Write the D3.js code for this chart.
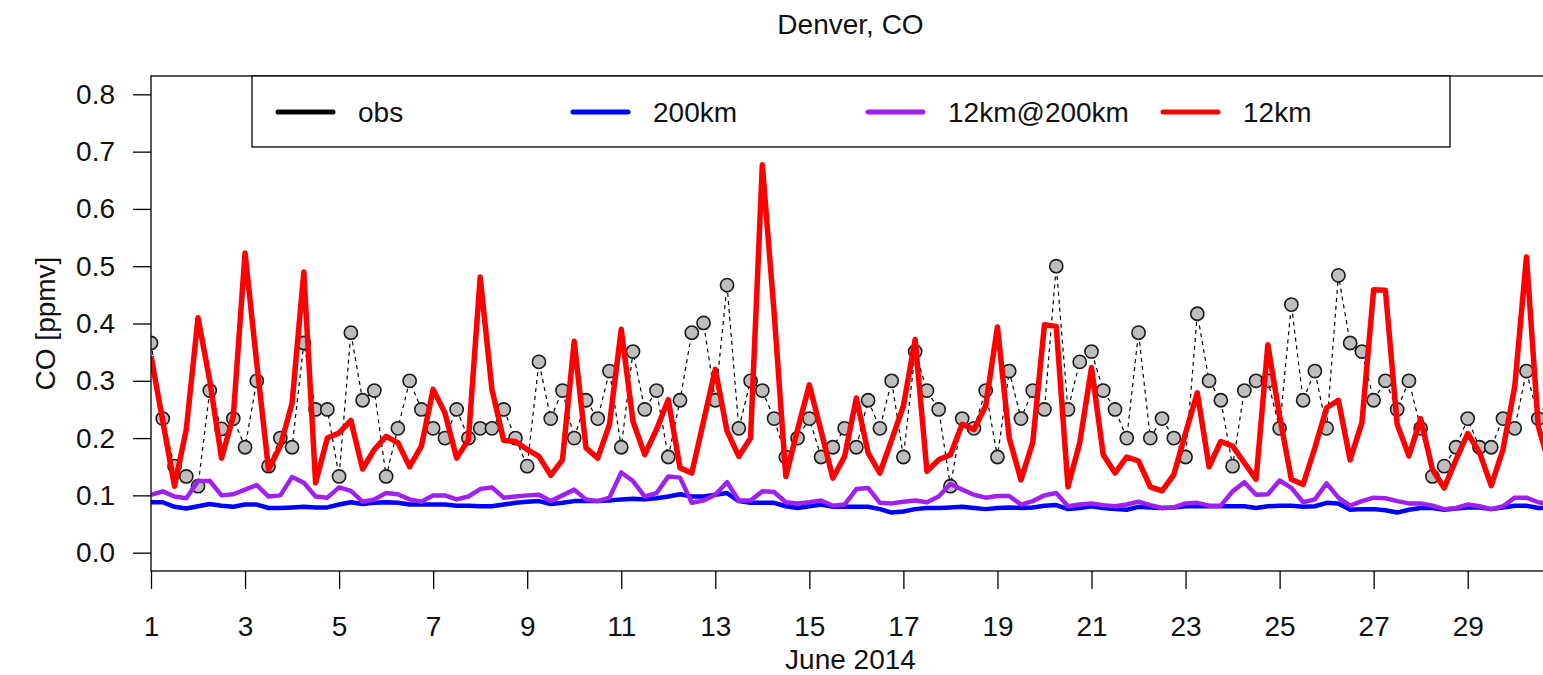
<!DOCTYPE html>
<html>
<head>
<meta charset="utf-8">
<script src="https://cdn.jsdelivr.net/npm/d3@7"></script>
<style>
  html, body { margin: 0; padding: 0; background: #fff; }
  svg { display: block; font-family: "Liberation Sans", Arial, Helvetica, sans-serif; }
</style>
</head>
<body>
<svg id="chart" width="1543" height="675"></svg>
<script>
// ---- data (6-hourly values starting 1 June 2014 00 UTC) ----
const obs = [
  0.366, 0.234, 0.151, 0.133,  0.116, 0.283, 0.216, 0.234,  0.184, 0.300, 0.151, 0.200,
  0.184, 0.366, 0.250, 0.250,  0.133, 0.384, 0.266, 0.283,  0.133, 0.217, 0.300, 0.250,
  0.217, 0.200, 0.250, 0.200,  0.217, 0.217, 0.250, 0.200,  0.151, 0.333, 0.234, 0.283,
  0.200, 0.266, 0.234, 0.317,  0.184, 0.351, 0.250, 0.283,  0.167, 0.266, 0.384, 0.401,
  0.266, 0.467, 0.217, 0.300,  0.283, 0.234, 0.167, 0.200,  0.234, 0.167, 0.184, 0.217,
  0.184, 0.266, 0.217, 0.300,  0.167, 0.351, 0.283, 0.250,  0.116, 0.234, 0.217, 0.283,
  0.167, 0.317, 0.234, 0.283,  0.250, 0.500, 0.250, 0.333,  0.351, 0.283, 0.250, 0.200,
  0.384, 0.200, 0.234, 0.200,  0.167, 0.417, 0.300, 0.266,  0.151, 0.283, 0.300, 0.300,
  0.217, 0.433, 0.266, 0.317,  0.217, 0.484, 0.366, 0.351,  0.266, 0.300, 0.250, 0.300,
  0.217, 0.133, 0.151, 0.184,  0.234, 0.184, 0.184, 0.234,  0.217, 0.317, 0.234, 0.250
];
const km200 = [
  0.088, 0.088, 0.080, 0.077,  0.081, 0.085, 0.082, 0.080,  0.084, 0.084, 0.078, 0.078,
  0.079, 0.080, 0.079, 0.079,  0.084, 0.088, 0.085, 0.087,  0.088, 0.087, 0.084, 0.084,
  0.084, 0.084, 0.082, 0.082,  0.081, 0.081, 0.084, 0.087,  0.089, 0.090, 0.085, 0.087,
  0.090, 0.090, 0.090, 0.091,  0.093, 0.094, 0.093, 0.095,  0.098, 0.102, 0.098, 0.098,
  0.101, 0.104, 0.090, 0.087,  0.087, 0.087, 0.081, 0.078,  0.081, 0.084, 0.080, 0.080,
  0.080, 0.080, 0.076, 0.070,  0.072, 0.076, 0.078, 0.078,  0.079, 0.080, 0.078, 0.076,
  0.078, 0.079, 0.078, 0.079,  0.082, 0.083, 0.076, 0.078,  0.081, 0.078, 0.076, 0.075,
  0.080, 0.079, 0.078, 0.079,  0.081, 0.081, 0.081, 0.081,  0.081, 0.081, 0.078, 0.081,
  0.082, 0.082, 0.080, 0.081,  0.087, 0.086, 0.075, 0.076,  0.076, 0.074, 0.070, 0.075,
  0.078, 0.078, 0.075, 0.077,  0.079, 0.079, 0.076, 0.079,  0.082, 0.082, 0.078, 0.078
];
const km12at200 = [
  0.101, 0.107, 0.098, 0.095,  0.125, 0.125, 0.100, 0.102,  0.110, 0.118, 0.098, 0.100,
  0.132, 0.122, 0.098, 0.096,  0.114, 0.108, 0.089, 0.093,  0.104, 0.102, 0.093, 0.089,
  0.100, 0.100, 0.093, 0.098,  0.111, 0.114, 0.096, 0.098,  0.100, 0.101, 0.090, 0.100,
  0.110, 0.093, 0.090, 0.096,  0.140, 0.125, 0.098, 0.104,  0.133, 0.131, 0.087, 0.091,
  0.101, 0.123, 0.091, 0.091,  0.107, 0.106, 0.088, 0.086,  0.088, 0.091, 0.082, 0.084,
  0.111, 0.113, 0.087, 0.086,  0.089, 0.091, 0.088, 0.098,  0.120, 0.110, 0.101, 0.096,
  0.099, 0.099, 0.084, 0.090,  0.100, 0.104, 0.081, 0.084,  0.086, 0.083, 0.081, 0.084,
  0.089, 0.083, 0.078, 0.079,  0.086, 0.087, 0.082, 0.082,  0.107, 0.123, 0.101, 0.102,
  0.126, 0.113, 0.088, 0.093,  0.121, 0.096, 0.082, 0.090,  0.096, 0.095, 0.090, 0.086,
  0.086, 0.082, 0.076, 0.078,  0.084, 0.081, 0.076, 0.081,  0.096, 0.096, 0.088, 0.085
];
const km12 = [
  0.343, 0.230, 0.116, 0.215,  0.410, 0.300, 0.165, 0.238,  0.523, 0.330, 0.145, 0.186,
  0.261, 0.490, 0.122, 0.200,  0.209, 0.231, 0.146, 0.180,  0.203, 0.192, 0.150, 0.186,
  0.285, 0.244, 0.165, 0.197,  0.481, 0.285, 0.196, 0.194,  0.180, 0.168, 0.135, 0.162,
  0.369, 0.183, 0.165, 0.224,  0.390, 0.229, 0.171, 0.215,  0.267, 0.148, 0.139, 0.229,
  0.320, 0.212, 0.168, 0.200,  0.677, 0.420, 0.133, 0.215,  0.293, 0.212, 0.130, 0.168,
  0.270, 0.174, 0.139, 0.197,  0.256, 0.372, 0.142, 0.162,  0.171, 0.224, 0.215, 0.256,
  0.394, 0.200, 0.127, 0.192,  0.398, 0.395, 0.115, 0.192,  0.323, 0.171, 0.139, 0.167,
  0.160, 0.115, 0.108, 0.136,  0.209, 0.279, 0.150, 0.194,  0.186, 0.157, 0.128, 0.363,
  0.238, 0.128, 0.119, 0.183,  0.253, 0.266, 0.162, 0.227,  0.459, 0.458, 0.224, 0.169,
  0.234, 0.145, 0.113, 0.162,  0.208, 0.175, 0.117, 0.180,  0.290, 0.516, 0.221, 0.150
];
const tickDays = [1, 3, 5, 7, 9, 11, 13, 15, 17, 19, 21, 23, 25, 27, 29];
const yTicks = [0.0, 0.1, 0.2, 0.3, 0.4, 0.5, 0.6, 0.7, 0.8];
const legendLabels = ["obs", "200km", "12km@200km", "12km"];
const legendColors = ["#000000", "#0000ff", "#a020f0", "#ff0000"];
const titleText = "Denver, CO";
const xLabel = "June 2014";
const yLabel = "CO [ppmv]";

// ---- layout ----
const M = { left: 151, right: 1550, top: 76, bottom: 571 };
const FS = 28;
const svg = d3.select("#chart");

const t0 = Date.UTC(2014, 5, 1);
const stepMs = 6 * 3600 * 1000;
const times = obs.map((_, i) => new Date(t0 + i * stepMs));

const x = d3.scaleUtc()
  .domain([times[0], times[times.length - 1]])
  .range([M.left, M.right]);
const y = d3.scaleLinear().domain([-0.032, 0.832]).range([M.bottom, M.top]);

svg.append("defs").append("clipPath").attr("id", "clip")
  .append("rect").attr("x", M.left).attr("y", M.top)
  .attr("width", M.right - M.left).attr("height", M.bottom - M.top);

const plot = svg.append("g").attr("clip-path", "url(#clip)");

const lineGen = arr => d3.line()
  .x((d, i) => x(times[i]))
  .y(d => y(d))(arr);

// observations: dashed line + points
plot.append("path").attr("d", lineGen(obs))
  .attr("fill", "none").attr("stroke", "#000").attr("stroke-width", 1.2)
  .attr("stroke-dasharray", "4,4");
plot.selectAll("circle.obs").data(obs).enter().append("circle")
  .attr("class", "obs")
  .attr("cx", (d, i) => x(times[i])).attr("cy", d => y(d)).attr("r", 6.6)
  .attr("fill", "#bebebe").attr("stroke", "#1a1a1a").attr("stroke-width", 1.6);

const series = [
  { v: km200, c: legendColors[1], w: 4.5 },
  { v: km12at200, c: legendColors[2], w: 4.5 },
  { v: km12, c: legendColors[3], w: 5.5 }
];
series.forEach(s => {
  plot.append("path").attr("d", lineGen(s.v))
    .attr("fill", "none").attr("stroke", s.c).attr("stroke-width", s.w)
    .attr("stroke-linejoin", "round");
});

// box
svg.append("rect").attr("x", M.left).attr("y", M.top)
  .attr("width", M.right - M.left).attr("height", M.bottom - M.top)
  .attr("fill", "none").attr("stroke", "#000").attr("stroke-width", 1.3);

// axes
const yAxis = d3.axisLeft(y).tickValues(yTicks).tickFormat(d3.format(".1f"))
  .tickSize(18).tickPadding(18);
const gy = svg.append("g").attr("transform", `translate(${M.left},0)`).call(yAxis);
gy.select(".domain").remove();

const xAxis = d3.axisBottom(x)
  .tickValues(tickDays.map(d => new Date(Date.UTC(2014, 5, d))))
  .tickFormat(d3.utcFormat("%-d"))
  .tickSize(18).tickPadding(27);
const gx = svg.append("g").attr("transform", `translate(0,${M.bottom})`).call(xAxis);
gx.select(".domain").remove();

[gx, gy].forEach(g => {
  g.selectAll("line").attr("stroke", "#000").attr("stroke-width", 1.3);
  g.selectAll("text").attr("font-size", FS).attr("fill", "#111")
    .attr("font-family", "'Liberation Sans', Arial, sans-serif");
});

// titles
svg.append("text").attr("x", (M.left + M.right) / 2).attr("y", 34)
  .attr("text-anchor", "middle").attr("font-size", FS).attr("fill", "#111").text(titleText);
svg.append("text").attr("x", (M.left + M.right) / 2).attr("y", 669)
  .attr("text-anchor", "middle").attr("font-size", FS).attr("fill", "#111").text(xLabel);
svg.append("text").attr("transform", `translate(55,${(M.top + M.bottom) / 2}) rotate(-90)`)
  .attr("text-anchor", "middle").attr("font-size", FS).attr("fill", "#111").text(yLabel);

// legend
const lg = svg.append("g");
lg.append("rect").attr("x", 252).attr("y", M.top).attr("width", 1450 - 252).attr("height", 147 - M.top)
  .attr("fill", "#fff").attr("stroke", "#000").attr("stroke-width", 1.3);
const legendX = [278, 573, 868, 1163];
legendLabels.forEach((lab, i) => {
  lg.append("line").attr("x1", legendX[i]).attr("x2", legendX[i] + 55)
    .attr("y1", 112).attr("y2", 112)
    .attr("stroke", legendColors[i]).attr("stroke-width", 5).attr("stroke-linecap", "round");
  lg.append("text").attr("x", legendX[i] + 80).attr("y", 112).attr("dy", "0.35em")
    .attr("font-size", FS).attr("fill", "#111").text(lab);
});
</script>
</body>
</html>
